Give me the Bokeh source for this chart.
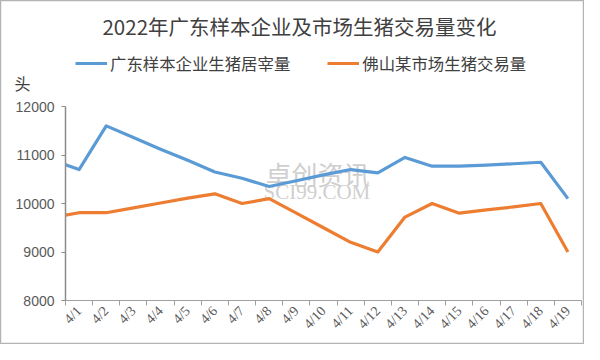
from bokeh.plotting import figure
from bokeh.models import Range1d, FixedTicker, Label, Legend, LegendItem
from bokeh.embed import file_html
from bokeh.resources import INLINE

# ---- data ----
categories = ["4/1", "4/2", "4/3", "4/4", "4/5", "4/6", "4/7", "4/8", "4/9", "4/10",
              "4/11", "4/12", "4/13", "4/14", "4/15", "4/16", "4/17", "4/18", "4/19"]
series_names = ["广东样本企业生猪居宰量", "佛山某市场生猪交易量"]
# first value of each series sits on the left edge of the axis, the rest at category centres
slaughter = [10800, 10700, 11600, 11360, 11120, 10890, 10650, 10520, 10350, 10470,
             10590, 10700, 10630, 10950, 10770, 10770, 10790, 10820, 10850, 10100]
market = [9760, 9810, 9810, 9910, 10010, 10110, 10200, 10000, 10100, 9800,
          9500, 9200, 9000, 9720, 10000, 9800, 9870, 9930, 10000, 9000]
y_ticks = [8000, 9000, 10000, 11000, 12000]
title_text = "2022年广东样本企业及市场生猪交易量变化"
unit_text = "头"

n = len(categories)
x_pos = [0.0] + [i + 0.5 for i in range(n)]
centers = [i + 0.5 for i in range(n)]
bounds = list(range(n + 1))

W, H = 584, 344
# plot-area placement inside the figure (pixels from top-left)
left, right, top, bottom = 65, 581, 106, 300
ux = (right - left) / n
uy = (bottom - top) / (y_ticks[-1] - y_ticks[0])
x_start = 0 - left / ux
x_end = n + (W - right) / ux
y_start = y_ticks[0] - (H - bottom) / uy
y_end = y_ticks[-1] + top / uy

CJK = "Noto Sans CJK SC"
BLUE = "#5B9BD5"
ORANGE = "#ED7D31"
TXT = "#404040"
TICK = "#595959"

p = figure(width=W, height=H, output_backend="svg", toolbar_location=None,
           x_range=Range1d(x_start, x_end), y_range=Range1d(y_start, y_end),
           min_border_left=0, min_border_right=0, min_border_top=0, min_border_bottom=0)
p.outline_line_color = "#b4b4b4"
p.outline_line_width = 1.5
p.xgrid.grid_line_color = None
p.ygrid.grid_line_color = None
p.background_fill_color = "white"
p.border_fill_color = "white"

# watermark (under the lines)
p.add_layout(Label(x=265, y=H - 173, x_units="screen", y_units="screen", text="卓创资讯",
                   text_font=CJK, text_font_size="26px", text_color="#cfcfcf",
                   text_align="left", text_baseline="middle", level="underlay"))
p.add_layout(Label(x=263, y=H - 191, x_units="screen", y_units="screen", text="SCI99.COM",
                   text_font="Liberation Serif", text_font_size="21px", text_color="#cfcfcf",
                   text_align="left", text_baseline="middle", level="underlay"))

r1 = p.line(x_pos, slaughter, line_color=BLUE, line_width=3.2, line_join="round")
r2 = p.line(x_pos, market, line_color=ORANGE, line_width=3.2, line_join="round")

# x axis: labels at centres, tick marks at boundaries
xa = p.xaxis[0]
xa.fixed_location = y_ticks[0]
xa.bounds = (0, n)
xa.ticker = FixedTicker(ticks=centers, minor_ticks=bounds)
xa.major_label_overrides = {c: lab for c, lab in zip(centers, categories)}
xa.major_tick_out = 0
xa.major_tick_in = 0
xa.minor_tick_out = 5
xa.minor_tick_in = 0
xa.minor_tick_line_color = "#a0a0a0"
xa.axis_line_color = "#a0a0a0"
xa.major_label_orientation = 0.8
xa.major_label_text_font = "Liberation Serif"
xa.major_label_text_font_size = "14px"
xa.major_label_text_color = TICK
xa.major_label_standoff = 3

ya = p.yaxis[0]
ya.fixed_location = 0
ya.bounds = (y_ticks[0], y_ticks[-1])
ya.ticker = FixedTicker(ticks=y_ticks)
ya.major_tick_out = 4
ya.major_tick_in = 0
ya.minor_tick_out = 0
ya.minor_tick_in = 0
ya.major_tick_line_color = "#8c8c8c"
ya.axis_line_color = "#8c8c8c"
ya.axis_line_width = 1.5
ya.major_label_text_font = "Liberation Sans"
ya.major_label_text_font_size = "14px"
ya.major_label_text_color = TICK
ya.major_label_standoff = 7

# title and unit
p.add_layout(Label(x=299, y=H - 25, x_units="screen", y_units="screen", text=title_text,
                   text_font=CJK, text_font_size="20.5px", text_color=TXT,
                   text_align="center", text_baseline="middle"))
p.add_layout(Label(x=22, y=H - 82, x_units="screen", y_units="screen", text=unit_text,
                   text_font=CJK, text_font_size="16px", text_color=TXT,
                   text_align="center", text_baseline="middle"))

legend = Legend(items=[LegendItem(label=series_names[0], renderers=[r1]),
                       LegendItem(label=series_names[1], renderers=[r2])],
                orientation="horizontal", location=(75, H - 65 - 10), padding=0, margin=0,
                spacing=37, glyph_width=32, glyph_height=16, label_standoff=3,
                label_height=20, background_fill_alpha=0, border_line_alpha=0,
                label_text_font=CJK, label_text_font_size="16.4px",
                label_text_color=TXT)
p.add_layout(legend)

open("out.html", "w").write(file_html(p, INLINE))
